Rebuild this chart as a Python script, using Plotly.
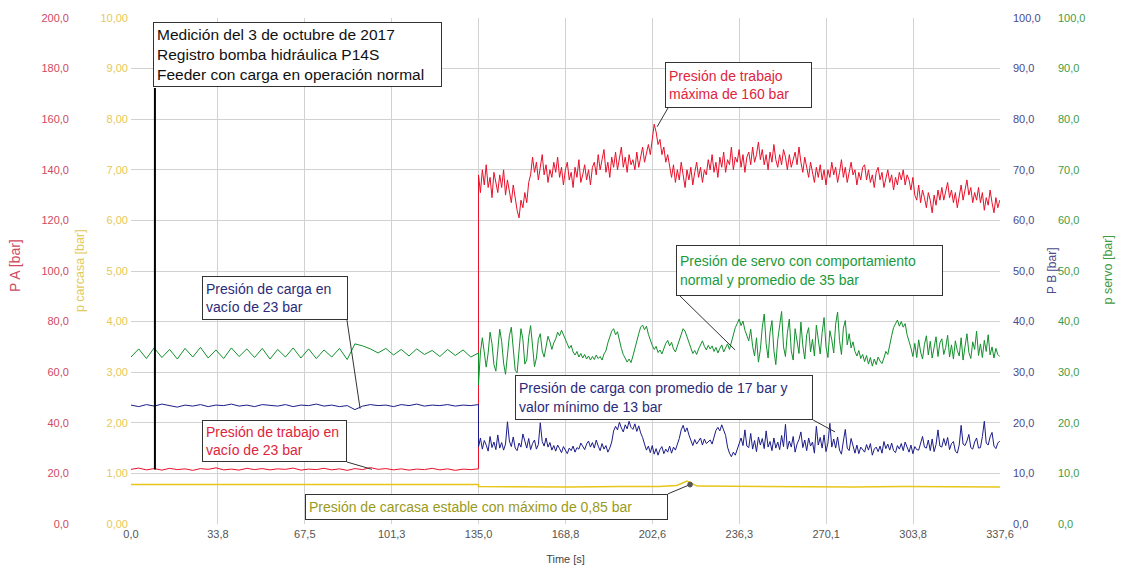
import plotly.graph_objects as go

# ---------------- data ----------------
x_tick_labels = ["0,0", "33,8", "67,5", "101,3", "135,0", "168,8", "202,6",
                 "236,3", "270,1", "303,8", "337,6"]
x_tick_vals = [0.0, 33.76, 67.52, 101.28, 135.04, 168.8, 202.56, 236.32, 270.08, 303.84, 337.6]

# time grids (s)
t_pre = [i * 3.0 for i in range(46)]             # 0 ... 135
t_post = [135.0 + i * 0.75 for i in range(271)]  # 135 ... 337.5

# P A [bar]  (working pressure)
pa_pre = [21.6, 22.1, 21.4, 21.9, 21.3, 22.0, 21.5, 21.8, 21.2, 21.9,
          21.6, 22.2, 21.4, 21.7, 21.3, 22.0, 21.5, 21.9, 21.4, 21.8,
          21.6, 22.1, 21.3, 21.7, 21.5, 22.0, 21.4, 21.8, 21.2, 21.9,
          21.5, 22.3, 21.6, 21.9, 21.4, 21.8, 21.3, 21.7, 21.5, 22.0,
          21.4, 21.8, 21.2, 21.7, 21.5, 21.8]
pa_post = [138, 131, 140, 134, 142, 133, 137, 129, 139, 135, 131, 138, 133, 140, 130, 136, 132, 127, 134, 129,
           124, 121, 128, 125, 131, 127, 135, 138, 145, 139, 143, 136, 141, 146, 138, 142, 135, 140, 137, 143,
           139, 145, 137, 141, 134, 140, 143, 136, 139, 133, 141, 137, 144, 135, 138, 142, 136, 140, 134, 141,
           143, 138, 146, 140, 144, 148, 139, 143, 137, 145, 141, 147, 140, 144, 149, 141, 145, 139, 146, 142,
           144, 140, 147, 141, 145, 149, 143, 147, 150, 146, 153, 158, 155, 150, 152, 146, 149, 143, 146, 141,
           137, 142, 135, 140, 136, 143, 138, 133, 140, 136, 141, 134, 139, 143, 137, 141, 135, 140, 138, 144,
           140, 146, 139, 143, 137, 145, 141, 147, 139, 144, 142, 149, 140, 145, 143, 148, 141, 146, 139, 145,
           147, 142, 149, 143, 146, 151, 144, 148, 142, 146, 140, 147, 143, 150, 144, 141, 146, 142, 148, 145,
           140, 146, 141, 144, 147, 142, 149, 143, 139, 145, 141, 137, 143, 139, 135, 141, 137, 142, 136, 140,
           134, 140, 137, 143, 138, 141, 135, 139, 144, 137, 141, 135, 139, 143, 138, 140, 134, 139, 136, 141,
           142, 136, 140, 135, 138, 133, 139, 141, 136, 139, 133, 137, 140, 135, 138, 132, 137, 134, 139, 136,
           140, 134, 138, 136, 132, 137, 130, 128, 134, 127, 132, 129, 125, 131, 128, 123, 130, 126, 132, 128,
           133, 128, 131, 135, 129, 132, 127, 131, 125, 130, 134, 128, 132, 136, 130, 133, 127, 131, 128, 133,
           127, 131, 124, 129, 126, 132, 127, 123, 129, 125, 128]

# P B [bar]  (charge pressure)
pb_pre = [23.5, 23.2, 23.6, 23.3, 23.7, 23.4, 23.1, 23.5, 23.3, 23.6,
          23.2, 23.5, 23.4, 23.7, 23.3, 23.5, 23.2, 23.6, 23.4, 23.3,
          23.6, 23.2, 23.5, 23.4, 23.7, 23.3, 23.5, 23.2, 23.4, 22.6,
          23.3, 23.6, 23.4, 23.5, 23.2, 23.6, 23.4, 23.7, 23.3, 23.5,
          23.4, 23.6, 23.3, 23.5, 23.4, 23.6]
pb_post = [15.2, 17.0, 14.8, 16.5, 15.6, 14.4, 17.3, 15.1, 16.2, 14.7, 17.6, 15.0, 16.1, 14.6, 15.8, 20.2, 16.4, 15.3, 17.2, 15.0,
           14.5, 16.0, 15.2, 17.8, 16.4, 15.0, 16.9, 14.7, 15.9, 16.6, 14.8, 15.7, 20.0, 16.3, 15.4, 17.0, 15.2, 16.1, 14.6, 15.5,
           14.4, 15.6, 14.9, 14.1, 15.3, 14.6, 13.9, 15.0, 14.5, 15.4, 14.2, 15.1, 14.8, 16.0, 15.3, 14.7, 15.8, 16.4, 15.2, 16.1,
           15.0, 16.6, 15.4, 14.5, 15.9, 14.8, 15.5, 14.2, 15.0, 16.2, 18.4, 19.3, 18.6, 20.1, 19.0, 18.2, 19.6, 18.8, 20.3, 19.1,
           18.7, 19.8, 18.3, 19.4, 18.0, 17.1, 15.8, 14.6, 15.4, 14.1, 15.5, 13.8, 14.9, 13.6, 14.7, 15.3, 13.9, 14.8, 14.2, 15.4,
           14.0, 15.2, 14.6, 15.8, 16.9, 18.6, 19.5, 18.2, 19.0, 17.6, 16.3, 15.5, 16.7, 15.8, 16.4, 17.0, 15.6, 16.8, 15.9, 16.3,
           16.6, 15.8, 17.3, 18.5, 19.1, 18.4, 19.6, 18.6, 17.5, 15.2, 14.0, 13.3, 14.2, 13.6, 14.9, 15.8, 17.0, 15.5, 18.6, 15.4,
           15.1, 17.9, 14.8, 16.5, 14.3, 17.2, 15.6, 16.9, 14.9, 18.4, 15.2, 16.3, 14.5, 17.0, 15.0, 16.2, 14.7, 17.5, 15.3, 19.7,
           14.8, 16.4, 15.2, 17.3, 14.2, 15.8, 16.7, 18.2, 15.1, 16.6, 14.5, 17.0, 15.4, 16.2, 14.0, 19.3, 15.6, 17.1, 15.0, 17.6,
           14.3, 16.0, 19.9, 15.2, 16.8, 15.0, 17.2, 14.6, 13.8, 16.4, 18.7, 15.0, 14.5, 16.9, 15.3, 14.0, 15.6, 13.9, 15.2, 14.6,
           14.2, 15.7, 14.6, 15.9, 13.6, 14.8, 15.2, 14.3, 15.4, 14.0, 16.3, 14.9, 15.8, 14.6, 16.0, 14.5, 14.1, 15.5, 14.8, 15.9,
           14.5, 16.2, 15.0, 14.2, 15.6, 13.9, 15.3, 14.7, 14.6, 15.8, 17.3, 15.2, 15.0, 16.6, 14.5, 16.8, 14.3, 15.7, 18.6, 15.4,
           15.2, 16.9, 15.5, 17.1, 14.7, 15.9, 16.3, 14.4, 14.0, 15.6, 19.5, 15.8, 15.5, 16.4, 17.7, 15.1, 14.8, 16.2, 17.0, 15.0,
           15.1, 17.3, 20.3, 16.0, 15.6, 17.2, 18.1, 15.4, 14.9, 16.0, 16.4]

# p servo [bar]
ps_pre = [33.0, 34.6, 32.7, 34.8, 32.9, 34.5, 32.6, 34.7, 33.0, 34.9,
          32.8, 34.4, 32.7, 34.8, 33.1, 34.6, 32.9, 34.7, 32.6, 34.5,
          33.0, 34.8, 32.8, 34.6, 32.7, 34.4, 33.0, 34.7, 32.5, 35.6,
          35.2, 34.6, 33.8, 34.7, 33.4, 34.5, 33.2, 34.6, 33.5, 34.3,
          33.1, 34.5, 33.3, 34.4, 33.0, 33.8]
ps_post = [27.5, 34.0, 36.8, 33.5, 31.0, 33.8, 37.9, 35.6, 31.5, 30.2, 34.4, 38.5, 36.1, 31.8, 29.6, 33.2, 37.2, 38.9, 34.0, 30.4,
           29.9, 33.6, 38.6, 36.5, 31.6, 32.4, 36.9, 39.2, 35.0, 31.1, 32.8, 36.5, 37.6, 34.2, 33.0, 35.4, 37.1, 36.0, 34.5, 35.8,
           36.6, 37.9, 37.2, 38.3, 37.5, 36.4, 35.6, 34.7, 35.3, 34.0, 33.4, 34.1, 33.0, 33.7, 32.8, 33.5, 32.6, 33.2, 32.4, 33.1,
           32.5, 33.4, 32.7, 33.1, 32.4, 33.6, 34.2, 35.8, 36.9, 38.1, 38.6, 37.4, 38.0, 36.2, 34.7, 33.5, 32.8, 32.0, 32.6, 31.9,
           33.2, 34.8, 36.5, 37.6, 38.9, 39.3, 38.4, 39.1, 37.5, 36.2, 35.3, 34.5, 35.1, 33.9, 34.4, 33.6, 34.8, 35.7, 36.3, 35.2,
           35.9, 34.6, 34.0, 35.2, 36.4, 37.7, 38.6, 38.1, 37.0, 35.6, 34.8, 33.7, 34.3, 33.5, 34.6, 35.5, 36.2, 35.1, 34.4, 35.3,
           34.6, 35.2, 34.1, 34.9, 33.8, 34.7, 35.4, 34.0, 34.8, 35.6, 34.5, 36.1, 37.4, 38.8, 39.6, 40.5, 39.2, 40.1, 38.3, 37.0,
           36.2, 38.5, 35.1, 33.2, 36.8, 32.0, 34.5, 38.9, 41.5, 35.6, 32.8, 37.9, 40.2, 34.3, 31.5, 36.4, 39.6, 42.0, 35.0, 33.1,
           37.8, 40.5, 34.2, 32.4, 38.6, 36.0, 33.7, 39.9, 35.2, 32.6, 37.4, 38.8, 34.0, 36.5, 33.2, 39.3, 36.1, 33.6, 37.8, 40.8,
           35.0, 32.9, 38.2, 36.4, 33.8, 39.5, 41.9, 36.3, 33.5, 38.7, 40.2, 35.4, 37.6, 34.8, 36.0, 34.1, 33.2, 34.3, 32.7, 33.5,
           32.1, 33.3, 31.6, 32.9, 31.2, 32.6, 31.5, 33.0, 32.2, 31.7, 32.8, 34.1, 33.5, 35.6, 37.2, 38.8, 39.6, 40.3, 39.1, 40.0,
           38.9, 39.6, 37.4, 36.2, 34.8, 33.1, 35.7, 32.9, 36.4, 34.0, 32.6, 35.5, 37.2, 33.4, 36.1, 32.8, 34.6, 37.0, 33.1, 35.8,
           36.6, 33.5, 34.9, 37.3, 33.0, 35.4, 32.6, 36.2, 34.3, 33.2, 36.8, 32.4, 35.0, 37.6, 33.9, 32.7, 36.0, 34.5, 38.1, 33.3,
           35.6, 32.9, 36.3, 34.1, 37.4, 33.4, 35.0, 32.8, 34.7, 33.5, 33.1]

# p carcasa [bar]  (case pressure)
t_case = [0.0, 45.0, 90.0, 135.0, 135.0, 150.0, 170.0, 190.0, 205.0, 212.0,
          216.0, 220.0, 240.0, 260.0, 280.0, 300.0, 320.0, 337.6]
pc_vals = [0.78, 0.78, 0.79, 0.78, 0.74, 0.73, 0.73, 0.74, 0.74, 0.76,
           0.85, 0.75, 0.74, 0.74, 0.73, 0.74, 0.73, 0.73]

# ---------------- styling ----------------
FONT = "Liberation Sans, Arial, sans-serif"
C_RED, C_YEL, C_BLU, C_GRN = "#e8102a", "#e6c619", "#1c1c8a", "#12902c"
T_RED, T_YEL, T_BLU, T_GRN = "#d04a5f", "#e3c95a", "#4a4a8c", "#3f9b46"
GRID = "#d2d2d2"

fig = go.Figure()
fig.add_trace(go.Scatter(x=t_pre + t_post, y=pa_pre + pa_post, mode="lines",
                         line=dict(color=C_RED, width=1), yaxis="y", name="P A"))
fig.add_trace(go.Scatter(x=t_pre + t_post, y=ps_pre + ps_post, mode="lines",
                         line=dict(color=C_GRN, width=1), yaxis="y4", name="p servo"))
fig.add_trace(go.Scatter(x=t_pre + t_post, y=pb_pre + pb_post, mode="lines",
                         line=dict(color=C_BLU, width=1), yaxis="y3", name="P B"))
fig.add_trace(go.Scatter(x=t_case, y=pc_vals, mode="lines",
                         line=dict(color=C_YEL, width=1.5), yaxis="y2", name="p carcasa"))

tick_font = lambda c: dict(family=FONT, size=11, color=c)

fig.update_layout(
    width=1116, height=561,
    margin=dict(l=2, r=2, t=10, b=45),
    paper_bgcolor="white", plot_bgcolor="white",
    separators=",.",
    showlegend=False,
    font=dict(family=FONT, size=11, color="#444"),
    xaxis=dict(domain=[0.1088, 0.8903], range=[0, 337.6], tickvals=x_tick_vals,
               ticktext=x_tick_labels, showgrid=True, gridcolor=GRID, gridwidth=1,
               zeroline=False, showline=False, ticks="", tickfont=tick_font("#555"),
               automargin=False, ticklabelstandoff=2,
               title=dict(text="Time [s]", font=dict(family=FONT, size=11, color="#444"),
                          standoff=16)),
    yaxis=dict(range=[0, 200], dtick=20, tick0=0, tickformat=".1f",
               anchor="free", position=0.053, side="left", automargin=False,
               showgrid=True, gridcolor=GRID, zeroline=False, showline=False,
               ticks="", tickfont=tick_font(T_RED)),
    yaxis2=dict(range=[0, 10], dtick=1, tick0=0, tickformat=".2f", automargin=False,
                overlaying="y", anchor="x", side="left", showgrid=False,
                zeroline=False, showline=False, ticks="", ticklabelstandoff=2,
                tickfont=tick_font(T_YEL)),
    yaxis3=dict(range=[0, 100], dtick=10, tick0=0, tickformat=".1f", automargin=False,
                overlaying="y", anchor="x", side="right", showgrid=False,
                zeroline=False, showline=False, ticks="", ticklabelstandoff=12,
                tickfont=tick_font(T_BLU)),
    yaxis4=dict(range=[0, 100], dtick=10, tick0=0, tickformat=".1f", automargin=False,
                overlaying="y", anchor="free", position=0.9415, side="right",
                showgrid=False, zeroline=False, showline=False, ticks="",
                tickfont=tick_font(T_GRN)),
)

# axis titles (rotated)
for txt, xp, yp, col, sz in [("P A [bar]", 0.0045, 0.51, T_RED, 14),
                             ("p carcasa [bar]", 0.063, 0.50, T_YEL, 12.5),
                             ("P B [bar]", 0.937, 0.50, T_BLU, 12),
                             ("p servo [bar]", 0.987, 0.502, T_GRN, 12.5)]:
    fig.add_annotation(text=txt, x=xp, y=yp, xref="paper", yref="paper",
                       textangle=-90, showarrow=False, xanchor="center", yanchor="middle",
                       font=dict(family=FONT, size=sz, color=col))

# callout boxes: (text, x_left[s], y_top[P A], width px, height px, color, size)
boxes = [
    ("Medición del 3 de octubre de 2017<br>Registro bomba hidráulica P14S<br>"
     "Feeder con carga en operación normal", 8.5, 198.4, 281, 57, "#111111", 15.5),
    ("Presión de trabajo<br>máxima de 160 bar", 207.5, 182.6, 139, 38, "#e0243c", 14),
    ("Presión de carga en<br>vacío de 23 bar", 27.6, 98.0, 138, 36, "#2b2b7a", 14),
    ("Presión de trabajo en<br>vacío de 23 bar", 27.6, 41.1, 137, 34, "#e0243c", 14),
    ("Presión de servo con comportamiento<br>normal y promedio de 35 bar",
     211.7, 110.3, 259, 43, "#1a9a3a", 14),
    ("Presión de carga con promedio de 17 bar y<br>valor mínimo de 13 bar",
     149.2, 58.9, 290, 37, "#2b2b7a", 14),
    ("Presión de carcasa estable con máximo de 0,85 bar", 67.6, 11.9, 355, 18,
     "#9a9a20", 14),
]
for txt, xl, yt, w, h, col, sz in boxes:
    fig.add_annotation(text=txt, x=xl, y=yt, xref="x", yref="y", xanchor="left",
                       yanchor="top", align="left", valign="middle", showarrow=False,
                       width=w, height=h, bgcolor="white", bordercolor="#333333",
                       borderwidth=1, borderpad=3,
                       font=dict(family=FONT, size=sz, color=col))

# pointer lines
pointers = [
    (9.3, 21.5, 9.3, 172.3, "#000000", 2),
    (208.6, 164.4, 204.4, 157.0, "#333333", 1),
    (83.9, 80.6, 89.0, 45.6, "#333333", 1),
    (83.9, 24.5, 93.6, 21.6, "#333333", 1),
    (213.3, 90.1, 234.7, 68.8, "#333333", 1),
    (265.0, 41.1, 273.5, 36.4, "#333333", 1),
    (208.6, 11.9, 217.2, 15.6, "#333333", 1),
]
for x0, y0, x1, y1, col, wd in pointers:
    fig.add_shape(type="line", x0=x0, y0=y0, x1=x1, y1=y1, xref="x", yref="y",
                  line=dict(color=col, width=wd))
fig.add_shape(type="circle", x0=216.3, x1=218.1, y0=14.6, y1=16.6, xref="x", yref="y",
              fillcolor="#555555", line=dict(color="#555555", width=1))

fig.write_html("out.html")
